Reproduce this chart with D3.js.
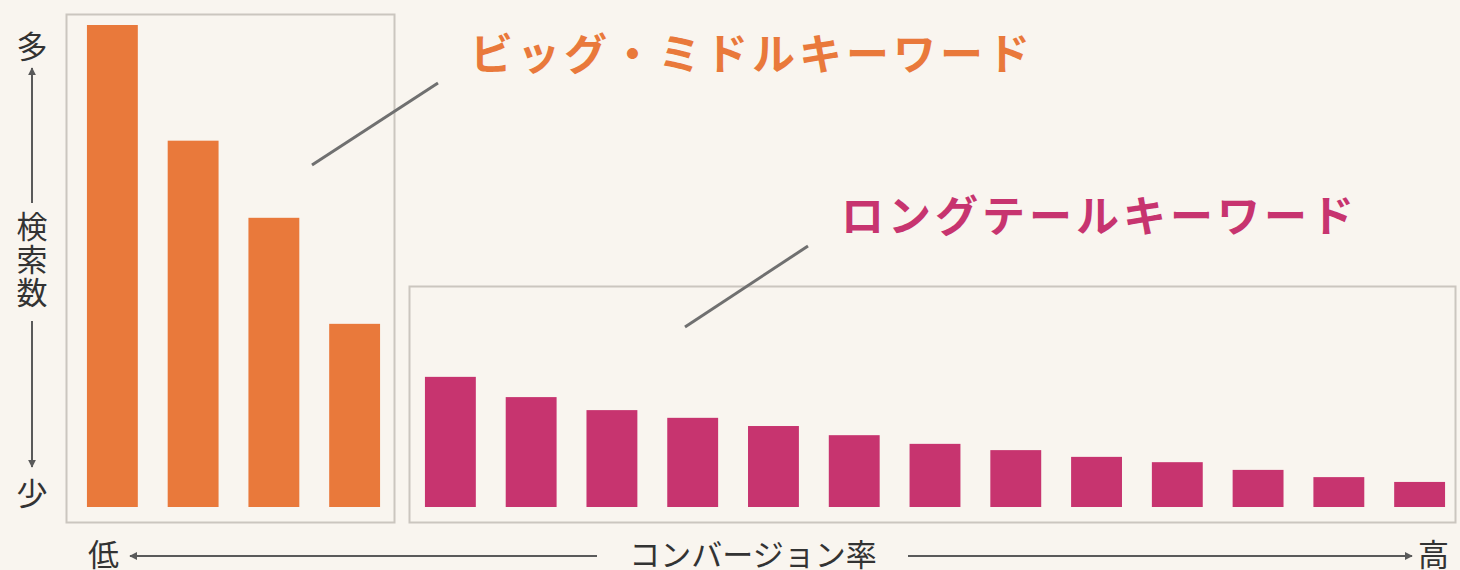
<!DOCTYPE html>
<html>
<head>
<meta charset="utf-8">
<script src="https://cdn.jsdelivr.net/npm/d3@7"></script>
<style>
  body { margin: 0; background: #f9f5ef; }
  svg { display: block; font-family: "Noto Sans CJK JP", "Noto Sans", sans-serif; }
</style>
</head>
<body>
<script>
// data (search volume, max = 100)
const bigKeys = ['B1', 'B2', 'B3', 'B4'];
const bigValues = [100, 76, 60, 38];
const longKeys = ['L1', 'L2', 'L3', 'L4', 'L5', 'L6', 'L7', 'L8', 'L9', 'L10', 'L11', 'L12', 'L13'];
const longValues = [27, 22.8, 20.1, 18.5, 16.8, 14.9, 13.1, 11.8, 10.4, 9.3, 7.7, 6.2, 5.2];

const bigLabel = 'ビッグ・ミドルキーワード';
const longLabel = 'ロングテールキーワード';
const yLabels = ['多', '検索数', '少'];
const xLabels = ['低', 'コンバージョン率', '高'];

const width = 1460;
const height = 570;
const orange = '#e9793b';
const magenta = '#c7346f';
const boxStroke = '#cbc6bf';
const axisColor = '#5a5a5a';

const svg = d3.select('body')
              .append('svg')
              .attr('width', width)
              .attr('height', height);

svg.append('rect')
   .attr('width', width)
   .attr('height', height)
   .attr('fill', '#f9f5ef');

const yScale = d3.scaleLinear()
                 .domain([0, 100])
                 .range([507, 25]);

const xBig = d3.scaleBand()
               .domain(bigKeys)
               .range([72, 395])
               .paddingInner(0.37)
               .paddingOuter(0.185);

const xLong = d3.scaleBand()
                .domain(longKeys)
                .range([410, 1460])
                .paddingInner(0.37)
                .paddingOuter(0.185);

// group boxes
svg.append('rect')
   .attr('x', 66.5).attr('y', 14.5)
   .attr('width', 328).attr('height', 508)
   .attr('fill', 'none')
   .attr('stroke', boxStroke)
   .attr('stroke-width', 2);

svg.append('rect')
   .attr('x', 409.5).attr('y', 286.5)
   .attr('width', 1046).attr('height', 236)
   .attr('fill', 'none')
   .attr('stroke', boxStroke)
   .attr('stroke-width', 2);

// bars
svg.append('g')
   .selectAll('rect')
   .data(bigValues)
   .enter()
   .append('rect')
   .attr('x', (d, i) => xBig(bigKeys[i]))
   .attr('y', d => yScale(d))
   .attr('width', xBig.bandwidth())
   .attr('height', d => yScale(0) - yScale(d))
   .attr('fill', orange);

svg.append('g')
   .selectAll('rect')
   .data(longValues)
   .enter()
   .append('rect')
   .attr('x', (d, i) => xLong(longKeys[i]))
   .attr('y', d => yScale(d))
   .attr('width', xLong.bandwidth())
   .attr('height', d => yScale(0) - yScale(d))
   .attr('fill', magenta);

// callout labels + leader lines
svg.append('line')
   .attr('x1', 312).attr('y1', 165)
   .attr('x2', 438).attr('y2', 83)
   .attr('stroke', '#707070')
   .attr('stroke-width', 3);

svg.append('line')
   .attr('x1', 685).attr('y1', 327)
   .attr('x2', 808).attr('y2', 246)
   .attr('stroke', '#707070')
   .attr('stroke-width', 3);

svg.append('text')
   .attr('x', 470).attr('y', 70)
   .attr('fill', orange)
   .style('font-size', '43px')
   .style('font-weight', 700)
   .style('letter-spacing', '4px')
   .text(bigLabel);

svg.append('text')
   .attr('x', 841).attr('y', 232)
   .attr('fill', magenta)
   .style('font-size', '43px')
   .style('font-weight', 700)
   .style('letter-spacing', '4px')
   .text(longLabel);

// arrow heads
const defs = svg.append('defs');
defs.append('marker')
    .attr('id', 'arrow')
    .attr('viewBox', '0 0 10 10')
    .attr('refX', 9).attr('refY', 5)
    .attr('markerWidth', 4).attr('markerHeight', 4)
    .attr('orient', 'auto')
    .append('path')
    .attr('d', 'M0,0 L10,5 L0,10 z')
    .attr('fill', axisColor);

// y axis (search volume)
const yx = 32;
svg.append('line')
   .attr('x1', yx).attr('y1', 203)
   .attr('x2', yx).attr('y2', 68)
   .attr('stroke', axisColor).attr('stroke-width', 2)
   .attr('marker-end', 'url(#arrow)');
svg.append('line')
   .attr('x1', yx).attr('y1', 321)
   .attr('x2', yx).attr('y2', 467)
   .attr('stroke', axisColor).attr('stroke-width', 2)
   .attr('marker-end', 'url(#arrow)');

const yText = svg.append('g')
                 .attr('fill', '#333')
                 .style('font-size', '31px')
                 .attr('text-anchor', 'middle');
yText.append('text').attr('x', yx).attr('y', 58).text(yLabels[0]);
yText.append('text')
     .attr('x', yx)
     .attr('y', 211)
     .attr('text-anchor', 'start')
     .style('writing-mode', 'vertical-rl')
     .style('text-orientation', 'upright')
     .style('letter-spacing', '2px')
     .text(yLabels[1]);
yText.append('text').attr('x', yx).attr('y', 505).text(yLabels[2]);

// x axis (conversion rate)
const ay = 556;
svg.append('line')
   .attr('x1', 597).attr('y1', ay)
   .attr('x2', 130).attr('y2', ay)
   .attr('stroke', axisColor).attr('stroke-width', 2)
   .attr('marker-end', 'url(#arrow)');
svg.append('line')
   .attr('x1', 908).attr('y1', ay)
   .attr('x2', 1412).attr('y2', ay)
   .attr('stroke', axisColor).attr('stroke-width', 2)
   .attr('marker-end', 'url(#arrow)');

const xText = svg.append('g')
                 .attr('fill', '#333')
                 .style('font-size', '31px');
xText.append('text').attr('x', 88).attr('y', 566).text(xLabels[0]);
xText.append('text').attr('x', 753).attr('y', 566).attr('text-anchor', 'middle').text(xLabels[1]);
xText.append('text').attr('x', 1418).attr('y', 566).text(xLabels[2]);
</script>
</body>
</html>
